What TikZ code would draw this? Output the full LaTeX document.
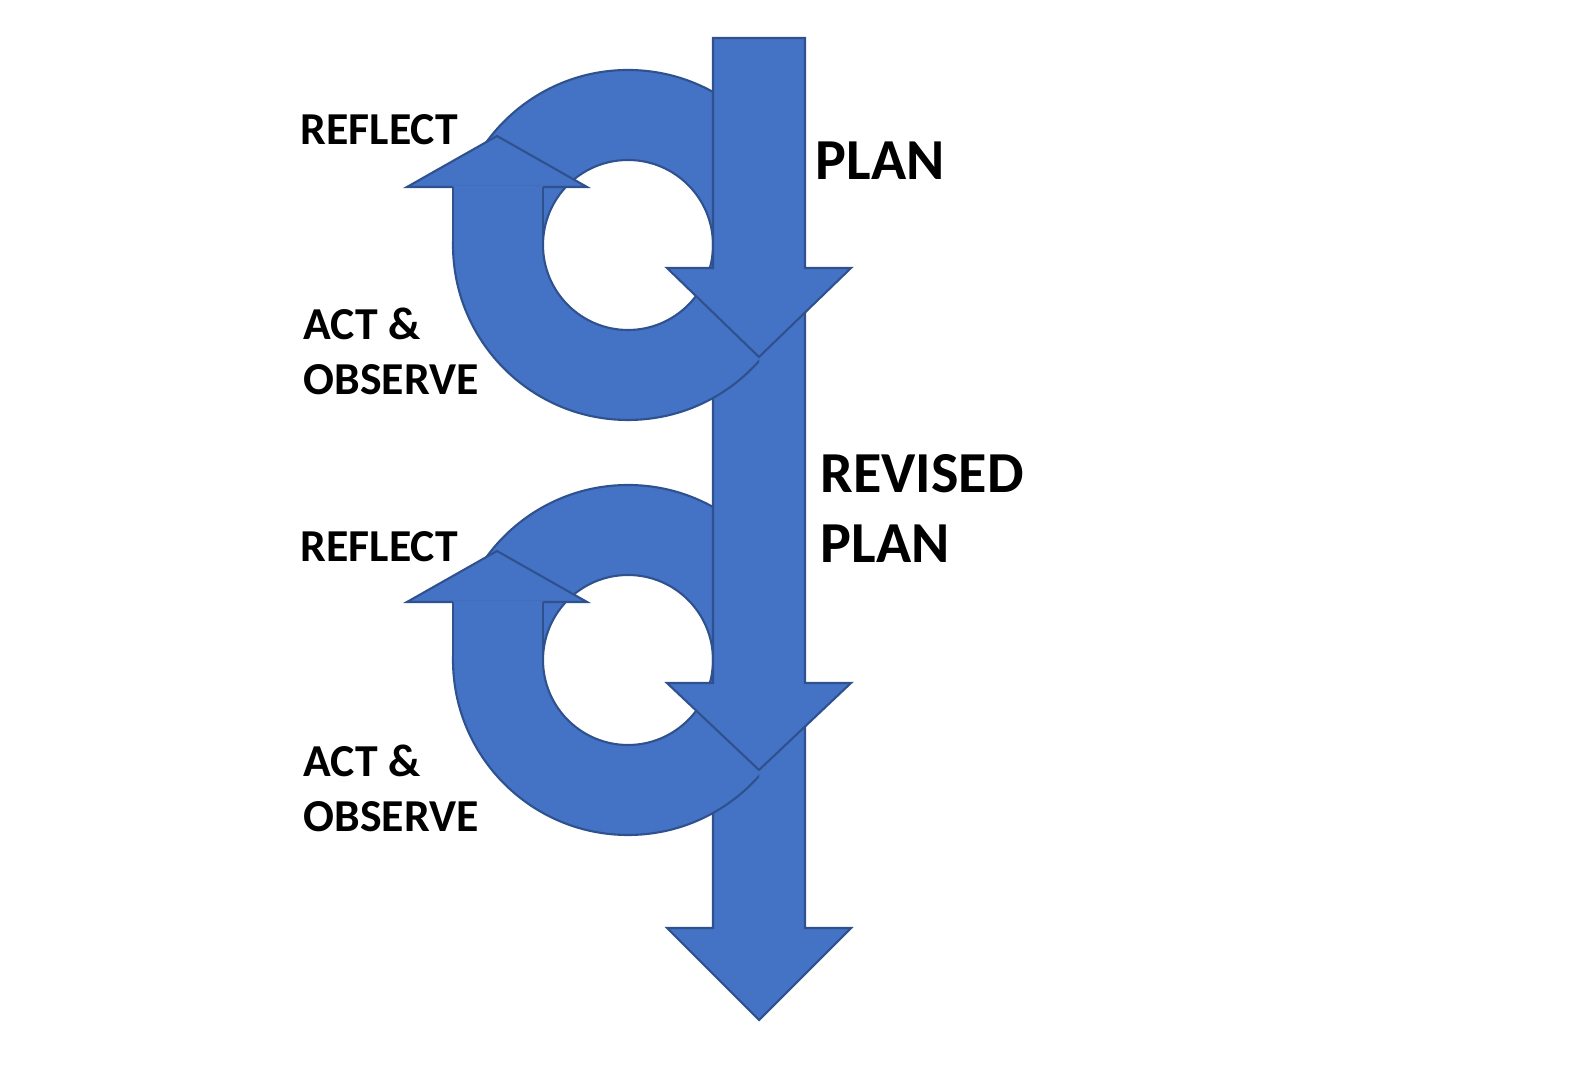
\documentclass[tikz,border=0pt]{standalone}
\usepackage{fontspec}
\setmainfont{Carlito}
\begin{document}
\begin{tikzpicture}[x=0.01cm,y=-0.01cm,
  blk/.style={fill=blueF,draw=blueD,line width=0.6pt,line join=miter},
  lblS/.style={anchor=base west,inner sep=0pt,font=\bfseries\fontsize{13}{15}\selectfont},
  lblL/.style={anchor=base west,inner sep=0pt,font=\bfseries\fontsize{16.5}{19}\selectfont}]
\definecolor{blueF}{HTML}{4472C4}
\definecolor{blueD}{HTML}{2F528F}
\useasboundingbox (0,0) rectangle (1591,1071);
% segment 3
\draw[blk] (713,725) -- (805,725) -- (805,928) -- (851,928) -- (759,1020) -- (667,928) -- (713,928) -- cycle;
\foreach \dy/\top in {415/310, 0/38}{
\begin{scope}[shift={(0,\dy)}]
% shaft below ring (next segment) drawn first for the lower ring
\end{scope}}
% ring 2
\begin{scope}[shift={(0,415)}]
\begin{scope}
\clip (300,0) rectangle (759,500);
\draw[blk,even odd rule] (628,245) circle[radius=175] (628,245) circle[radius=85];
\end{scope}
\draw[blk] (407,187) -- (497,136) -- (587,187) -- cycle;
\fill[blueF] (453,186) rectangle (543,246);
\draw[blueD,line width=0.6pt] (453,187) -- (453,246) (543,187) -- (543,246);
\end{scope}
% segment 2
\draw[blk] (713,310) -- (805,310) -- (805,683) -- (851,683) -- (759,770) -- (667,683) -- (713,683) -- cycle;
% ring 1
\begin{scope}
\clip (300,0) rectangle (759,500);
\draw[blk,even odd rule] (628,245) circle[radius=175] (628,245) circle[radius=85];
\end{scope}
\draw[blk] (407,187) -- (497,136) -- (587,187) -- cycle;
\fill[blueF] (453,186) rectangle (543,246);
\draw[blueD,line width=0.6pt] (453,187) -- (453,246) (543,187) -- (543,246);
% segment 1
\draw[blk] (713,38) -- (805,38) -- (805,268) -- (851,268) -- (759,357) -- (667,268) -- (713,268) -- cycle;
% labels
\node[lblS] (r1) at (300,145) {REFLECT};
\node[lblL] (p1) at (815,180) {PLAN};
\node[lblS] (a1) at (303,340) {ACT \&};
\node[lblS] (o1) at (303,395) {OBSERVE};
\node[lblL] (rv) at (820,493) {REVISED};
\node[lblL] (p2) at (820,563) {PLAN};
\node[lblS] (r2) at (300,562) {REFLECT};
\node[lblS] (a2) at (303,777) {ACT \&};
\node[lblS] (o2) at (303,832) {OBSERVE};
\end{tikzpicture}
\end{document}
